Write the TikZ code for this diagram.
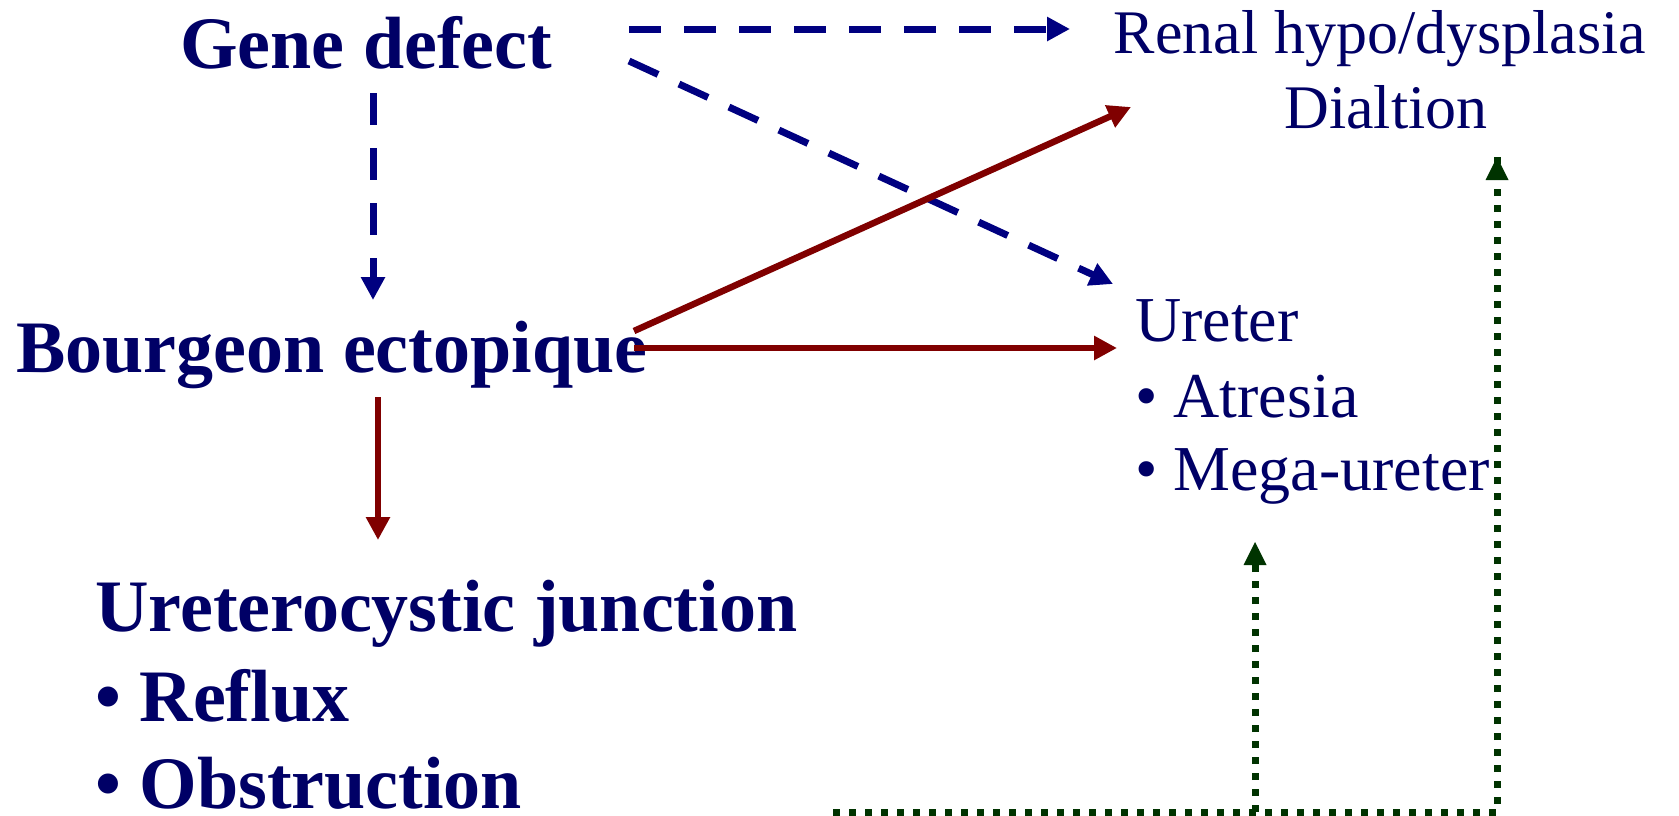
\documentclass[tikz,border=0pt]{standalone}
\usepackage{fontspec}
\setmainfont{Liberation Serif}
\usetikzlibrary{arrows.meta}
\definecolor{txtblue}{RGB}{0,0,102}
\definecolor{lnblue}{RGB}{0,0,128}
\definecolor{lnred}{RGB}{128,0,0}
\definecolor{lngreen}{RGB}{0,51,0}
\begin{document}
\begin{tikzpicture}[x=1pt,y=-1pt,
  big/.style={font=\fontsize{74}{80}\selectfont\bfseries, text=txtblue, inner sep=0pt, anchor=base west},
  reg/.style={font=\fontsize{64}{70}\selectfont, text=txtblue, inner sep=0pt, anchor=base west},
  regc/.style={font=\fontsize{62}{70}\selectfont, text=txtblue, inner sep=0pt, anchor=base},
  tip/.style={-{Triangle[length=23pt,width=23pt]}},
  bluedash/.style={draw=lnblue, line width=7pt, dash pattern=on 32pt off 23pt, tip},
  redline/.style={draw=lnred, line width=6.5pt, tip},
  greendot/.style={draw=lngreen, line width=7pt, dash pattern=on 7pt off 9pt},
]
\useasboundingbox (0,0) rectangle (1679,815);

% text nodes
\node[big] (gene) at (180,68) {Gene defect};
\node[big] (bourg) at (16,372) {Bourgeon ectopique};
\node[big] (uj) at (95,631) {Ureterocystic junction};
\node[big] (reflux) at (95,721) {• Reflux};
\node[big, text depth=0pt] (obstr) at (95,808) {• Obstruction};
\node[regc] (renal) at (1380,53) {Renal hypo/dysplasia};
\node[regc] (dial) at (1386,128) {Dialtion};
\node[reg] (ureter) at (1135,341) {Ureter};
\node[reg] (atresia) at (1135,417) {• Atresia};
\node[reg] (mega) at (1135,490) {• Mega-ureter};

% connector end points
\coordinate (geneR1) at (629,29);
\coordinate (geneR2) at (629,61);
\coordinate (geneD) at (373,93);
\coordinate (renalIn1) at (1070,29);
\coordinate (renalIn2) at (1131,107);
\coordinate (ureterIn1) at (1113,284);
\coordinate (ureterIn2) at (1117,348);
\coordinate (bourgUp) at (373,300);
\coordinate (bourgR1) at (634,331);
\coordinate (bourgR2) at (634,348);
\coordinate (bourgD) at (378,397);
\coordinate (ujUp) at (378,540);
\coordinate (gStart) at (833,812);
\coordinate (gBranch) at (1255,812);
\coordinate (gCorner) at (1497,812);
\coordinate (megaIn) at (1255,542);
\coordinate (dialIn) at (1497,157);

% blue dashed
\draw[bluedash] (geneR1) -- (renalIn1);
\draw[bluedash] (geneR2) -- (ureterIn1);
\draw[bluedash] (geneD) -- (bourgUp);

% red solid
\draw[redline] (bourgR1) -- (renalIn2);
\draw[redline] (bourgR2) -- (ureterIn2);
\draw[redline] (bourgD) -- (ujUp);

% green dotted
\draw[greendot] (gStart) -- (gCorner) -- (dialIn);
\draw[greendot] (gBranch) -- (megaIn);
\fill[lngreen] (dialIn) -- ++(-11.5,23) -- ++(23,0) -- cycle;
\fill[lngreen] (megaIn) -- ++(-11.5,23) -- ++(23,0) -- cycle;
\end{tikzpicture}
\end{document}
